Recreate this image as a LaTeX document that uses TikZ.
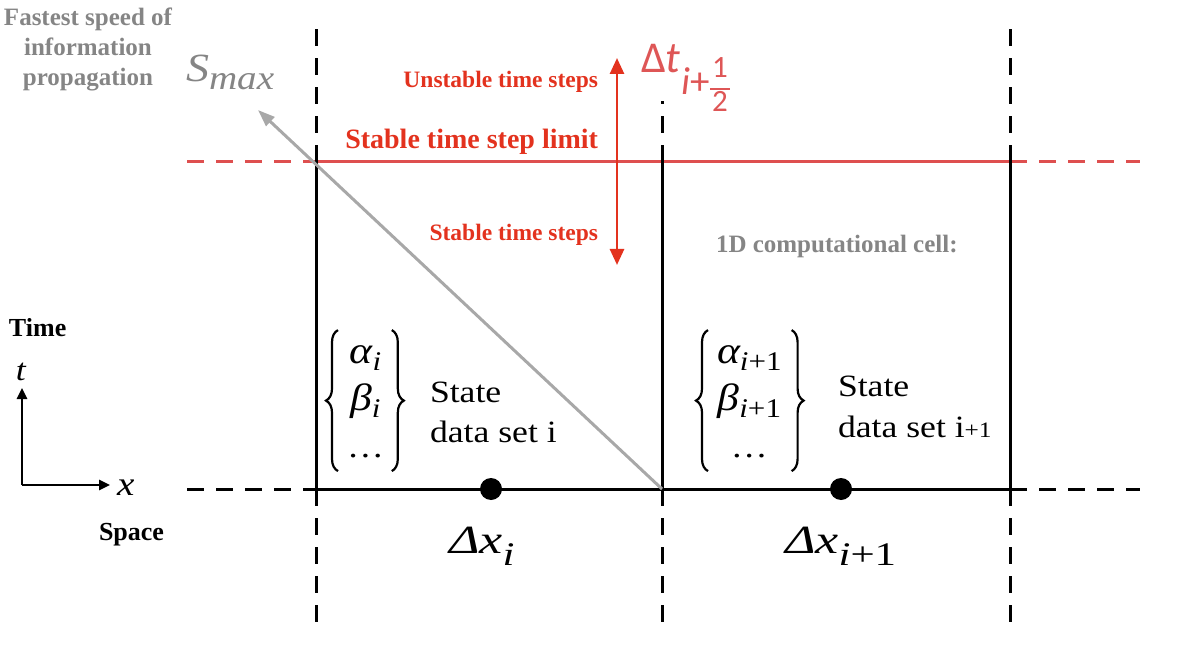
\RequirePackage{fix-cm}
\documentclass[tikz,border=0pt]{standalone}
\usepackage[no-math]{fontspec}
\newfontfamily\tnr{Liberation Serif}
\newfontfamily\lsm{Liberation Serif}[FakeStretch=1.15]
\newfontfamily\lsw{Liberation Serif}[FakeStretch=1.3]
\newfontfamily\carl{Carlito}
\usetikzlibrary{arrows.meta,decorations.pathreplacing}
\definecolor{redtxt}{HTML}{E3321E}
\definecolor{redln}{HTML}{DE4F4F}
\definecolor{reddt}{HTML}{DE5656}
\definecolor{graytxt}{HTML}{858585}
\definecolor{grayarr}{HTML}{A8A8A8}
\newcommand\lowtxt[3]{\raisebox{#1}{\fontsize{#2}{#2}\selectfont #3}}
\tikzset{
  solidln/.style={line width=3pt, black},
  dashln/.style={line width=3pt, black, dash pattern=on 17pt off 12pt},
  redsolid/.style={line width=3pt, redln},
  reddash/.style={line width=3pt, redln, dash pattern=on 17pt off 12pt},
  lbl/.style={inner sep=0pt, outer sep=0pt},
  boldred/.style={lbl, text=redtxt, font=\tnr\bfseries\fontsize{23.5}{26}\selectfont},
  boldgray/.style={lbl, text=graytxt, font=\tnr\bfseries\fontsize{25}{30}\selectfont},
  boldblack/.style={lbl, text=black, font=\tnr\bfseries\fontsize{26}{28}\selectfont},
  statetxt/.style={lbl, font=\lsm\fontsize{31}{40}\selectfont},
  setcol/.style={lbl, font=\lsm\itshape\fontsize{38}{47}\selectfont},
  dxlbl/.style={lbl, font=\lsw\itshape\fontsize{40}{44}\selectfont},
  curly/.style={decorate, decoration={brace, amplitude=12pt}, line width=2.2pt},
  cdot/.style={circle, fill=black, inner sep=0pt, minimum size=22pt},
  axarrow/.style={line width=2.5pt, -{Triangle[length=11pt,width=10pt]}},
}
\begin{document}
\begin{tikzpicture}[x=1pt,y=-1pt]
\useasboundingbox (0,0) rectangle (1177,652);
% grid coordinates
\coordinate (A0) at (316,162); \coordinate (B0) at (662,162); \coordinate (C0) at (1010,162);
\coordinate (A1) at (316,489); \coordinate (B1) at (662,489); \coordinate (C1) at (1010,489);
\coordinate (A0t) at (316,27); \coordinate (B0t) at (662,101); \coordinate (C0t) at (1010,27);
\coordinate (A1b) at (316,623); \coordinate (B1b) at (662,623); \coordinate (C1b) at (1010,623);
\coordinate (L0) at (187,162); \coordinate (R0) at (1140,162);
\coordinate (L1) at (187,489); \coordinate (R1) at (1140,489);
% red stable limit line
\draw[reddash] (L0) -- (A0);
\draw[redsolid] (A0) -- (C0);
\draw[reddash] (C0) -- (R0);
% vertical cell lines
\draw[dashln] (A0) -- (A0t);
\draw[dashln] (B0) -- (B0t);
\draw[dashln] (C0) -- (C0t);
\draw[solidln] (A0) -- (A1);
\draw[solidln] (B0) -- (B1);
\draw[solidln] (C0) -- (C1);
\draw[dashln] (A1) -- (A1b);
\draw[dashln] (B1) -- (B1b);
\draw[dashln] (C1) -- (C1b);
% bottom line
\draw[dashln] (L1) -- (A1);
\draw[solidln] (A1) -- (C1);
\draw[dashln] (C1) -- (R1);
% gray characteristic arrow
\coordinate (Sarr) at (258,110);
\draw[line width=3pt, grayarr, -{Triangle[length=17pt,width=12pt]}] (B1) -- (Sarr);
% red double arrow
\coordinate (rT) at (617,58); \coordinate (rB) at (617,265);
\draw[line width=2.6pt, redtxt, {Triangle[length=16pt,width=14pt]}-{Triangle[length=16pt,width=14pt]}] (rB) -- (rT);
% cell centre dots
\node[cdot] (d1) at (491,489) {};
\node[cdot] (d2) at (841,489) {};
% labels
\node[boldgray, align=center] (fast) at (88,49) {Fastest speed of\\information\\propagation};
\node[lbl, anchor=base west, text=graytxt, font=\lsm\itshape\fontsize{40}{45}\selectfont] (smax) at (186,82) {S\lowtxt{-8pt}{34}{max}};
\node[lbl, anchor=base west, text=reddt, font=\carl\fontsize{44}{50}\selectfont] (dt) at (641,73) {Δ\textit{t}\hspace{1pt}\lowtxt{-22pt}{39}{\textit{i}+}\raisebox{-5pt}{\fontsize{31}{32}\selectfont\setlength{\arrayrulewidth}{2pt}\begin{tabular}[t]{@{\hspace{2pt}}c@{\hspace{2pt}}}1\\\hline 2\end{tabular}}};
\node[boldred, anchor=base east] (unst) at (598,88) {Unstable time steps};
\node[boldred, anchor=base east, font=\tnr\bfseries\fontsize{28}{30}\selectfont] (limit) at (598,149) {Stable time step limit};
\node[boldred, anchor=base east] (stab) at (598,240.5) {Stable time steps};
\node[lbl, anchor=base west, text=graytxt, font=\tnr\bfseries\fontsize{25}{28}\selectfont] (cell) at (716,252) {1D computational cell:};
% state sets
\node[setcol, anchor=base west] (g1) at (347,363) {\begin{tabular}[t]{@{}c@{}}α\lowtxt{-7pt}{27}{i}\\β\lowtxt{-7pt}{27}{i}\\\upshape\fontsize{32}{47}\selectfont …\end{tabular}};
\draw[curly] ([xshift=-9pt]g1.south west) -- ([xshift=-9pt]g1.north west);
\draw[curly] ([xshift=8pt]g1.north east) -- ([xshift=8pt]g1.south east);
\node[statetxt, anchor=base west] (s1a) at (430,402) {State};
\node[statetxt, anchor=base west] (s1b) at (430,442) {data set i};
\node[setcol, anchor=base west] (g2) at (717,363) {\begin{tabular}[t]{@{}c@{}}α\lowtxt{-7pt}{27}{i\textup{+1}}\\β\lowtxt{-7pt}{27}{i\textup{+1}}\\\upshape\fontsize{32}{47}\selectfont …\end{tabular}};
\draw[curly] ([xshift=-9pt]g2.south west) -- ([xshift=-9pt]g2.north west);
\draw[curly] ([xshift=10pt]g2.north east) -- ([xshift=10pt]g2.south east);
\node[statetxt, anchor=base west] (s2a) at (838,396) {State};
\node[statetxt, anchor=base west] (s2b) at (838,437) {data set i{\fontsize{22}{22}\selectfont+1}};
\node[dxlbl, anchor=base west] (dx1) at (449,553) {Δx\lowtxt{-12pt}{33}{i}};
\node[dxlbl, anchor=base west] (dx2) at (785,553) {Δx\lowtxt{-12pt}{33}{i\textup{+1}}};
% axes
\coordinate (O) at (22,485); \coordinate (tT) at (22,388); \coordinate (xT) at (110,485);
\draw[axarrow] (O) -- (tT);
\draw[axarrow] (O) -- (xT);
\node[boldblack, anchor=base west] (time) at (9,336) {Time};
\node[lbl, anchor=base west, font=\lsm\itshape\fontsize{31}{34}\selectfont] (tlab) at (16,380) {t};
\node[lbl, anchor=base west, font=\lsm\itshape\fontsize{34}{36}\selectfont] (xlab) at (117,495) {x};
\node[boldblack, anchor=base west] (space) at (99,540) {Space};
\end{tikzpicture}
\end{document}
